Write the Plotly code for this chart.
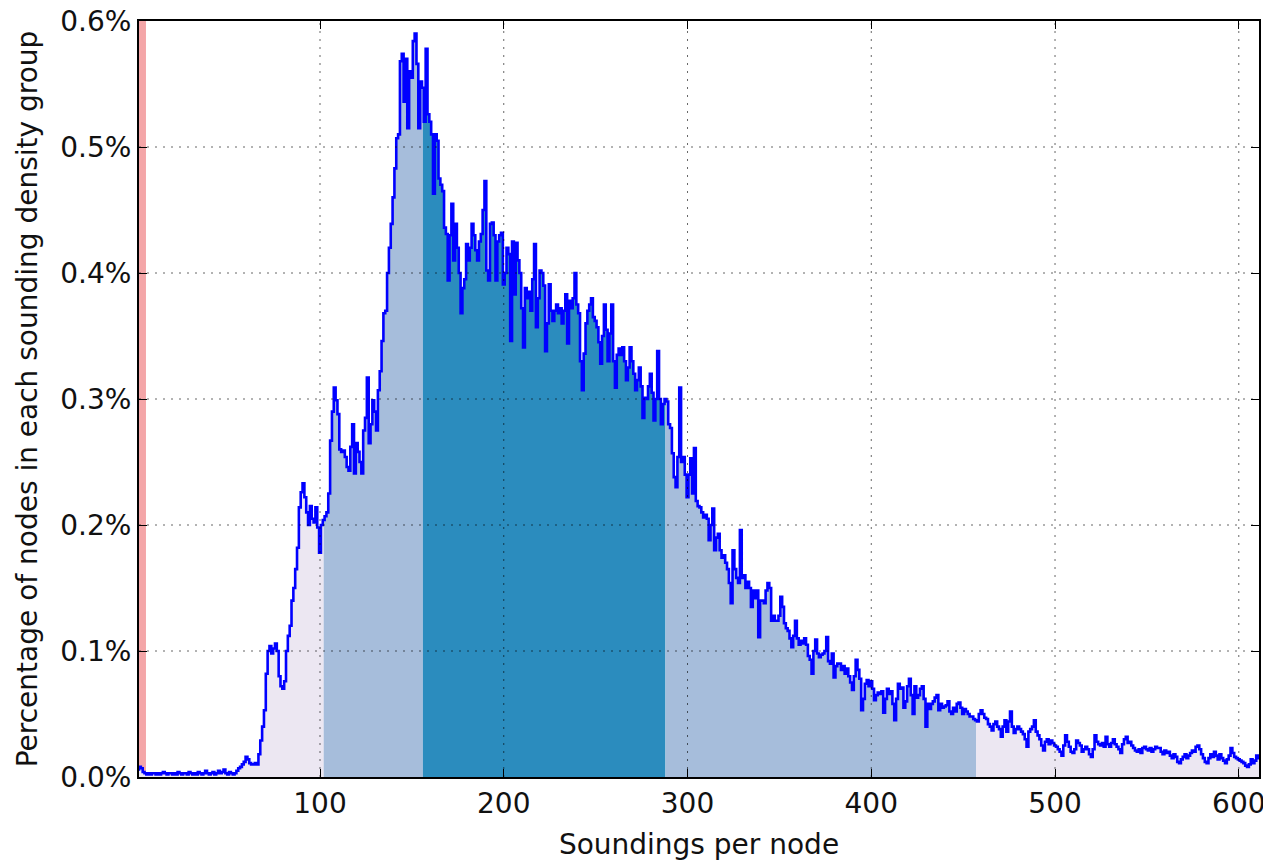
import plotly.graph_objects as go

# Percentage of nodes (in thousandths of a percent) for soundings-per-node = 1..611
pct_milli = [
    6, 8, 7, 4, 3, 2, 3, 2, 3, 3,            # 1-10
    2, 3, 2, 3, 4, 3, 2, 3, 3, 2,            # 11-20
    3, 2, 4, 3, 2, 3, 3, 2, 4, 3,            # 21-30
    2, 3, 2, 4, 3, 2, 3, 5, 3, 2,            # 31-40
    3, 4, 2, 3, 5, 3, 4, 6, 3, 2,            # 41-50
    4, 3, 2, 3, 5, 7, 8, 10, 12, 16,         # 51-60
    14, 11, 10, 10, 11, 10, 18, 29, 40, 53,  # 61-70
    82, 100, 104, 98, 102, 106, 100, 80, 72, 70,   # 71-80
    76, 100, 112, 120, 140, 150, 165, 182, 214, 226,  # 81-90
    233, 222, 210, 200, 215, 205, 202, 214, 198, 178,  # 91-100
    200, 204, 207, 210, 225, 267, 290, 309, 299, 288,  # 101-110
    260, 258, 259, 254, 246, 243, 262, 280, 241, 265,  # 111-120
    258, 250, 241, 275, 285, 317, 265, 280, 299, 290,  # 121-130
    275, 307, 322, 346, 368, 370, 400, 420, 439, 460,  # 131-140
    483, 507, 510, 568, 574, 536, 570, 515, 560, 555,  # 141-150
    584, 590, 566, 515, 552, 547, 520, 578, 526, 520,  # 151-160
    510, 463, 510, 505, 475, 470, 465, 436, 431, 394,  # 161-170
    430, 455, 410, 439, 420, 400, 368, 388, 395, 423,  # 171-180
    410, 420, 439, 430, 418, 410, 425, 431, 450, 473,  # 181-190
    402, 394, 439, 440, 430, 394, 425, 430, 432, 391,  # 191-200
    400, 420, 415, 346, 425, 383, 424, 410, 400, 372,  # 201-210
    341, 388, 380, 385, 370, 395, 423, 357, 380, 402,  # 211-220
    400, 390, 338, 360, 391, 370, 362, 370, 375, 368,  # 221-230
    372, 360, 370, 383, 344, 378, 372, 380, 400, 375,  # 231-240
    368, 330, 307, 336, 360, 370, 375, 380, 365, 362,  # 241-250
    357, 345, 328, 350, 375, 355, 330, 352, 375, 330,  # 251-260
    309, 335, 340, 335, 341, 330, 315, 325, 341, 330,  # 261-270
    320, 307, 315, 325, 310, 285, 301, 300, 310, 320,  # 271-280
    305, 283, 300, 338, 300, 280, 296, 300, 298, 280,  # 281-290
    277, 257, 238, 230, 254, 309, 250, 254, 240, 222,  # 291-300
    240, 253, 225, 261, 219, 215, 214, 210, 206, 208,  # 301-310
    205, 188, 200, 213, 180, 190, 193, 180, 174, 176,  # 311-320
    170, 165, 154, 138, 180, 165, 158, 154, 196, 158,  # 321-330
    160, 150, 155, 150, 135, 148, 142, 148, 111, 140,  # 331-340
    140, 138, 148, 154, 150, 124, 128, 124, 124, 128,  # 341-350
    143, 135, 122, 118, 116, 110, 103, 112, 124, 110,  # 351-360
    105, 108, 106, 110, 105, 96, 93, 82, 100, 109,     # 361-370
    98, 95, 97, 98, 100, 111, 92, 90, 98, 79,          # 371-380
    88, 90, 90, 85, 88, 82, 86, 80, 75, 69,            # 381-390
    80, 93, 85, 78, 53, 62, 74, 77, 72, 76,            # 391-400
    70, 61, 65, 67, 66, 68, 51, 62, 70, 66,            # 401-410
    68, 58, 45, 62, 74, 70, 71, 55, 60, 72,            # 411-420
    78, 65, 50, 72, 63, 65, 70, 72, 62, 40,            # 421-430
    58, 54, 58, 60, 63, 65, 53, 58, 55, 56,            # 431-440
    57, 60, 52, 50, 55, 52, 58, 59, 55, 50,            # 441-450
    54, 52, 50, 48, 48, 46, 45, 44, 50, 53,            # 451-460
    50, 47, 46, 42, 40, 37, 42, 44, 40, 38,            # 461-470
    32, 40, 45, 36, 44, 52, 40, 35, 38, 40,            # 471-480
    38, 36, 34, 30, 24, 36, 38, 40, 45, 36,            # 481-490
    33, 30, 25, 21, 28, 30, 26, 29, 27, 25,            # 491-500
    24, 22, 20, 17, 25, 33, 28, 24, 20, 19,            # 501-510
    22, 29, 27, 25, 20, 22, 24, 22, 18, 16,            # 511-520
    22, 33, 28, 26, 25, 27, 24, 32, 26, 24,            # 521-530
    27, 30, 26, 24, 22, 19, 26, 30, 32, 27,            # 531-540
    28, 25, 23, 21, 20, 22, 19, 23, 24, 22,            # 541-550
    21, 23, 20, 22, 24, 23, 23, 20, 18, 21,            # 551-560
    19, 20, 17, 15, 18, 16, 12, 11, 14, 16,            # 561-570
    18, 15, 17, 19, 21, 20, 24, 25, 22, 18,            # 571-580
    15, 12, 11, 15, 18, 16, 20, 17, 14, 18,            # 581-590
    15, 13, 11, 14, 17, 23, 19, 16, 15, 14,            # 591-600
    13, 12, 11, 9, 8, 10, 14, 11, 13, 17, 15,          # 601-611
]
soundings = list(range(1, len(pct_milli) + 1))
pct = [v / 1000 for v in pct_milli]

# Density-group bands (soundings-per-node boundaries) and their colours
band_edges = [1, 102, 156, 288, 457, 611]
band_colors = ["#ece7f2", "#a6bddb", "#2b8cbe", "#a6bddb", "#ece7f2"]
low_span = [1, 5.3]
low_color = "#f4a6a8"

x_ticks = [100, 200, 300, 400, 500, 600]
y_ticks = [0.0, 0.1, 0.2, 0.3, 0.4, 0.5, 0.6]
x_range = [1.5, 611]
y_range = [0, 0.6]

FONT = "DejaVu Sans"
GRID = dict(color="rgba(0,0,0,0.6)", width=1, dash="2px,6px")

fig = go.Figure()

for i, col in enumerate(band_colors):
    a, b = band_edges[i], band_edges[i + 1]
    xs = [x for x in soundings if a <= x <= b]
    ys = [pct[x - 1] for x in xs]
    fig.add_trace(go.Scatter(
        x=xs, y=ys, mode="lines",
        line=dict(width=0, shape="hvh"),
        fill="tozeroy", fillcolor=col,
        hoverinfo="skip", showlegend=False,
    ))

fig.add_trace(go.Scatter(
    x=soundings, y=pct, mode="lines",
    line=dict(color="#0000ff", width=2.6, shape="hvh"),
    showlegend=False,
))

shapes = [dict(type="rect", xref="x", yref="paper",
               x0=low_span[0], x1=low_span[1], y0=0, y1=1,
               fillcolor=low_color, line=dict(width=0), layer="below")]
for xv in x_ticks:
    shapes.append(dict(type="line", xref="x", yref="paper", x0=xv, x1=xv, y0=0, y1=1,
                       line=GRID, layer="above"))
for yv in y_ticks[1:-1]:
    shapes.append(dict(type="line", xref="paper", yref="y", x0=0, x1=1, y0=yv, y1=yv,
                       line=GRID, layer="above"))

axis_common = dict(
    showline=True, linecolor="black", linewidth=2, mirror="ticks",
    ticks="inside", ticklen=8, tickwidth=1, tickcolor="black",
    showgrid=False, zeroline=False, automargin=False,
    ticklabeloverflow="allow",
    tickfont=dict(family=FONT, size=28, color="#111111"),
)

# the page body adds an 8px offset, so the figure is sized to end at the window edge
fig.update_layout(
    width=1263, height=854,
    margin=dict(l=131, r=12, t=13, b=85),
    paper_bgcolor="white", plot_bgcolor="white",
    shapes=shapes,
    xaxis=dict(range=x_range, tickvals=x_ticks, ticktext=[str(v) for v in x_ticks],
               title=dict(text="Soundings per node", font=dict(family=FONT, size=28, color="#111111"),
                          standoff=16),
               **axis_common),
    yaxis=dict(range=y_range, tickvals=y_ticks, ticktext=[f"{v:.1f}%" for v in y_ticks],
               title=dict(text="Percentage of nodes in each sounding density group",
                          font=dict(family=FONT, size=28, color="#111111"), standoff=14),
               **axis_common),
)

fig.write_html("out.html")
